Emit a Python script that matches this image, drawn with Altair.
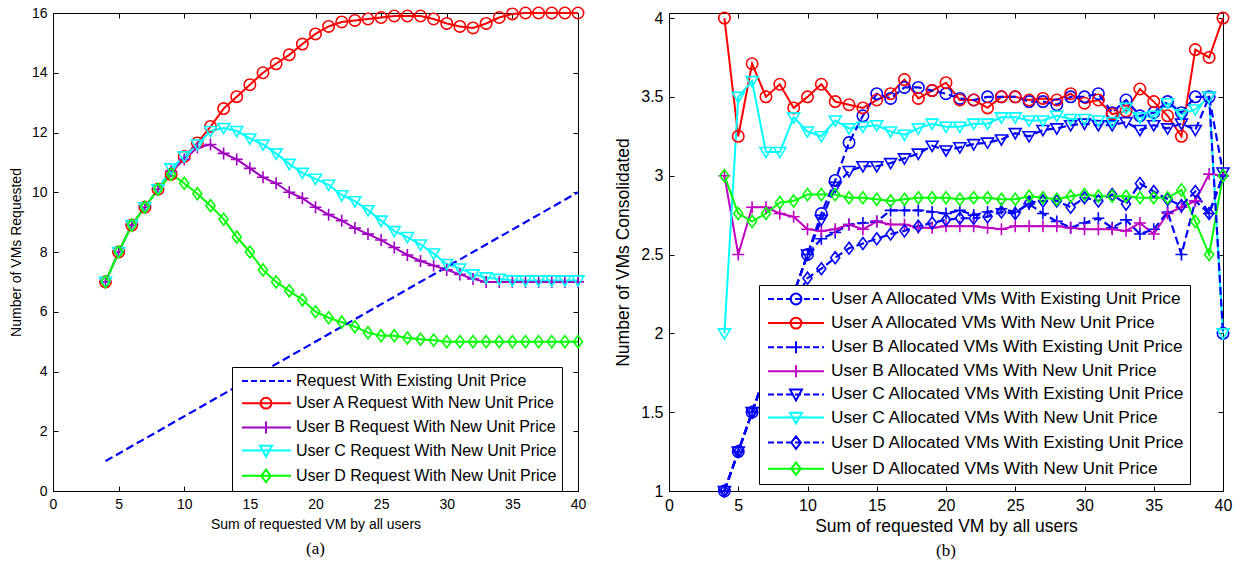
import altair as alt
import pandas as pd

FONT = "Liberation Sans"
SERIF = "Liberation Serif"

# ---------------- Panel (a) data ----------------
A_X = list(range(4, 41))
A_EXIST_X = [4, 40]
A_EXIST_Y = [1, 10]
A_USER_A = [7, 8, 8.9, 9.5, 10.1, 10.6, 11.2, 11.65, 12.2, 12.8, 13.2, 13.6, 14.0, 14.3, 14.6, 14.96,
            15.3, 15.55, 15.7, 15.75, 15.8, 15.85, 15.9, 15.9, 15.9, 15.8, 15.65, 15.55, 15.5, 15.65,
            15.85, 15.97, 16, 16, 16, 16, 16]
A_USER_B = [7, 8, 8.9, 9.5, 10.1, 10.7, 11.1, 11.5, 11.6, 11.3, 11.1, 10.8, 10.5, 10.3, 10.0, 9.8,
            9.5, 9.25, 9.05, 8.8, 8.6, 8.4, 8.15, 7.9, 7.7, 7.55, 7.4, 7.25, 7.1, 7.0,
            7.0, 7.0, 7.0, 7.0, 7.0, 7.0, 7.0]
A_USER_C = [7, 8, 8.9, 9.5, 10.1, 10.8, 11.2, 11.6, 12.05, 12.15, 12.05, 11.8, 11.6, 11.3, 10.95, 10.65,
            10.45, 10.25, 9.9, 9.7, 9.4, 9.05, 8.7, 8.5, 8.25, 7.95, 7.6, 7.45, 7.25, 7.15,
            7.1, 7.05, 7.05, 7.05, 7.05, 7.05, 7.05]
A_USER_D = [7, 8, 8.9, 9.5, 10.1, 10.6, 10.3, 9.95, 9.55, 9.1, 8.5, 8.0, 7.4, 7.0, 6.7, 6.4,
            6.0, 5.8, 5.65, 5.5, 5.3, 5.2, 5.2, 5.12, 5.08, 5.05,
            5.0, 5.0, 5.0, 5.0, 5.0, 5.0, 5.0, 5.0, 5.0, 5.0, 5.0]
A_NAMES = ["Request With Existing Unit Price",
           "User A Request With New Unit Price",
           "User B Request With New Unit Price",
           "User C Request With New Unit Price",
           "User D Request With New Unit Price"]
A_COLORS = ["#0000FF", "#FF0000", "#A000C0", "#00FFFF", "#00FF00"]
A_DASHED = [True, False, False, False, False]
A_MARKERS = ["none", "circle", "plus", "tri", "diamond"]

# ---------------- Panel (b) data ----------------
B_X = list(range(4, 41))
B_A_EXIST = [1, 1.25, 1.5, 1.75, 2.0, 2.25, 2.5, 2.76, 2.97, 3.21, 3.38, 3.52, 3.49, 3.56, 3.56, 3.54,
             3.52, 3.49, 3.48, 3.5, 3.5, 3.5, 3.47, 3.47, 3.45, 3.5, 3.5, 3.52, 3.4, 3.48,
             3.38, 3.4, 3.47, 3.4, 3.5, 3.5, 2.0]
B_A_NEW = [4.0, 3.25, 3.71, 3.5, 3.58, 3.43, 3.5, 3.58, 3.47, 3.45, 3.43, 3.48, 3.52, 3.61, 3.49, 3.54,
           3.59, 3.48, 3.48, 3.43, 3.5, 3.5, 3.48, 3.49, 3.48, 3.52, 3.46, 3.48, 3.39, 3.41,
           3.55, 3.47, 3.38, 3.25, 3.8, 3.75, 4.0]
B_B_EXIST = [1, 1.25, 1.5, 1.75, 2.0, 2.25, 2.5, 2.6, 2.64, 2.69, 2.7, 2.71, 2.78, 2.78, 2.78, 2.77,
             2.76, 2.78, 2.75, 2.77, 2.79, 2.77, 2.82, 2.76, 2.71, 2.67, 2.7, 2.73, 2.67, 2.72,
             2.63, 2.66, 2.77, 2.5, 2.84, 2.76, 3.0]
B_B_NEW = [3.0, 2.5, 2.8, 2.8, 2.76, 2.74, 2.66, 2.65, 2.66, 2.69, 2.66, 2.71, 2.69, 2.69, 2.67, 2.67,
           2.68, 2.68, 2.68, 2.67, 2.66, 2.68, 2.68, 2.68, 2.68, 2.67, 2.66, 2.66, 2.66, 2.65,
           2.7, 2.63, 2.76, 2.8, 2.84, 3.01, 3.0]
B_C_EXIST = [1, 1.25, 1.5, 1.75, 2.0, 2.25, 2.5, 2.72, 2.93, 3.03, 3.06, 3.06, 3.08, 3.11, 3.14, 3.19,
             3.16, 3.18, 3.2, 3.21, 3.23, 3.27, 3.25, 3.29, 3.3, 3.32, 3.33, 3.32, 3.32, 3.34,
             3.29, 3.32, 3.3, 3.33, 3.29, 3.5, 3.02]
B_C_NEW = [2.0, 3.5, 3.6, 3.15, 3.15, 3.37, 3.28, 3.25, 3.35, 3.3, 3.31, 3.32, 3.28, 3.26, 3.3, 3.33,
           3.31, 3.31, 3.33, 3.33, 3.37, 3.37, 3.35, 3.35, 3.38, 3.36, 3.36, 3.35, 3.34, 3.43,
           3.37, 3.38, 3.46, 3.39, 3.42, 3.5, 2.0]
B_D_EXIST = [1, 1.25, 1.5, 1.75, 2.0, 2.2, 2.35, 2.41, 2.48, 2.54, 2.57, 2.6, 2.63, 2.65, 2.68, 2.7,
             2.72, 2.73, 2.73, 2.74, 2.77, 2.76, 2.83, 2.84, 2.84, 2.8, 2.86, 2.84, 2.88, 2.82,
             2.95, 2.9, 2.85, 2.81, 2.9, 2.76, 3.0]
B_D_NEW = [3.0, 2.76, 2.71, 2.76, 2.83, 2.84, 2.88, 2.88, 2.88, 2.86, 2.86, 2.85, 2.84, 2.85, 2.86, 2.86,
           2.86, 2.85, 2.86, 2.86, 2.85, 2.85, 2.87, 2.86, 2.85, 2.87, 2.88, 2.87, 2.87, 2.87,
           2.86, 2.86, 2.86, 2.91, 2.71, 2.5, 3.0]
B_NAMES = ["User A Allocated VMs With Existing Unit Price",
           "User A Allocated VMs With New Unit Price",
           "User B Allocated VMs With Existing Unit Price",
           "User B Allocated VMs With New Unit Price",
           "User C Allocated VMs With Existing Unit Price",
           "User C Allocated VMs With New Unit Price",
           "User D Allocated VMs With Existing Unit Price",
           "User D Allocated VMs With New Unit Price"]
# blues differ by one unit so every series keeps its own range entry
B_COLORS = ["#0000FF", "#FF0000", "#0000FE", "#C000C0", "#0000FD", "#00FFFF", "#0000FC", "#00FF00"]
B_DASHED = [True, False, True, False, True, False, True, False]
B_MARKERS = ["circle", "circle", "plus", "plus", "tri", "tri", "diamond", "diamond"]

X_TICKS = [0, 5, 10, 15, 20, 25, 30, 35, 40]
A_Y_TICKS = [0, 2, 4, 6, 8, 10, 12, 14, 16]
B_Y_TICKS = [1, 1.5, 2, 2.5, 3, 3.5, 4]
X_TITLE = "Sum of requested VM  by all users"

# marker glyphs used inside the plot area: (shape, size)
PLOT_SHAPES = {
    "circle": ("circle", 130),
    "plus": ("M-1,0H1M0,-1V1", 144),
    "tri": ("M-1,-0.75H1L0,0.95Z", 144),
    "diamond": ("M0,-1L0.75,0L0,1L-0.75,0Z", 144),
}

LEG_SYMBOL_SIZE = 256          # unit = sqrt(256)/2 = 8 px
LEG_UNIT = 8.0
LEG_CENTER = 9.0               # ceil(sqrt(size) + stroke) / 2


def legend_symbol(marker, dashed, x0, x1, xm):
    def u(px):
        return (px - LEG_CENTER) / LEG_UNIT

    def s(px):
        return px / LEG_UNIT
    L, R, M = u(x0), u(x1), u(xm)
    if dashed:
        parts = []
        x = L
        while x < R - 1e-9:
            parts.append(f"M{x:.3f},0H{min(x + s(6), R):.3f}")
            x += s(9)
        path = "".join(parts)
    else:
        path = f"M{L:.3f},0H{R:.3f}"
    if marker == "circle":
        r = s(5.4)
        path += f"M{M + r:.3f},0A{r:.3f},{r:.3f} 0 1 1 {M - r:.3f},0A{r:.3f},{r:.3f} 0 1 1 {M + r:.3f},0"
    elif marker == "plus":
        h = s(6)
        path += f"M{M:.3f},{-h:.3f}V{h:.3f}M{M - h:.3f},0H{M + h:.3f}"
    elif marker == "tri":
        path += f"M{M - s(6):.3f},{-s(4.8):.3f}H{M + s(6):.3f}L{M:.3f},{s(6):.3f}Z"
    elif marker == "diamond":
        path += (f"M{M:.3f},{-s(6.2):.3f}L{M + s(4.8):.3f},0L{M:.3f},{s(6.2):.3f}"
                 f"L{M - s(4.8):.3f},0Z")
    return path


def long_frame(xs_list, ys_list, names):
    rows = []
    for xs, ys, n in zip(xs_list, ys_list, names):
        for xv, yv in zip(xs, ys):
            rows.append({"x": xv, "y": yv, "series": n})
    return pd.DataFrame(rows)


def panel(df, names, colors, dashed, markers, ydom, yticks, yfmt, ytitle,
          width, height, fs_tick, fs_title, fs_leg, leg_xy, leg_geom, caption,
          x_title_pad, y_title_pad, cap_offset):
    xscale = alt.Scale(domain=[0, 40], nice=False, zero=False)
    yscale = alt.Scale(domain=ydom, nice=False, zero=False)
    cscale = alt.Scale(domain=names, range=colors)
    common_ax = dict(domain=False, grid=False, offset=-5, tickSize=5, tickColor="black",
                     tickWidth=1)
    x_main = alt.Axis(orient="bottom", values=X_TICKS, title=X_TITLE, labelFlush=False,
                      labelPadding=6, labelFont=FONT, labelFontSize=fs_tick, labelColor="black",
                      titleFont=FONT, titleFontSize=fs_title, titleFontWeight="normal",
                      titleColor="black", titlePadding=x_title_pad, **common_ax)
    y_main = alt.Axis(orient="left", values=yticks, title=ytitle, format=yfmt, labelFlush=False,
                      labelPadding=6, labelFont=FONT, labelFontSize=fs_tick, labelColor="black",
                      titleFont=FONT, titleFontSize=fs_title, titleFontWeight="normal",
                      titleColor="black", titlePadding=y_title_pad, **common_ax)
    x_top = alt.Axis(orient="top", values=X_TICKS, labels=False, title=None,
                     minExtent=0, maxExtent=0, **common_ax)
    y_right = alt.Axis(orient="right", values=yticks, labels=False, title=None,
                       minExtent=0, maxExtent=0, **common_ax)

    dashed_names = [n for n, d in zip(names, dashed) if d]
    solid_names = [n for n, d in zip(names, dashed) if not d]

    base = alt.Chart(df)

    # legend-only layer (first, so its legend settings win when layers merge)
    x0, x1, xm, lab_off, pad, rowpad = leg_geom
    paths = [legend_symbol(m, d, x0, x1, xm) for m, d in zip(markers, dashed)]
    leg = alt.Legend(title=None, orient="none", legendX=leg_xy[0], legendY=leg_xy[1],
                     direction="vertical", labelFont=FONT, labelFontSize=fs_leg,
                     labelColor="black", labelLimit=0, labelOffset=lab_off,
                     symbolSize=LEG_SYMBOL_SIZE, symbolStrokeWidth=2, symbolOpacity=1,
                     padding=pad, rowPadding=rowpad, strokeColor="black",
                     fillColor="white", cornerRadius=0)
    legend_layer = base.transform_filter("false").mark_point(
        filled=False, size=LEG_SYMBOL_SIZE, strokeWidth=2, opacity=1
    ).encode(
        color=alt.Color("series:N", scale=cscale, legend=leg),
        shape=alt.Shape("series:N", scale=alt.Scale(domain=names, range=paths), legend=leg),
    )

    solid = base.transform_filter(
        alt.FieldOneOfPredicate(field="series", oneOf=solid_names)
    ).mark_line(strokeWidth=2).encode(
        x=alt.X("x:Q", scale=xscale, axis=x_main),
        y=alt.Y("y:Q", scale=yscale, axis=y_main),
        color=alt.Color("series:N", scale=cscale, legend=None),
    )
    dash = base.transform_filter(
        alt.FieldOneOfPredicate(field="series", oneOf=dashed_names)
    ).mark_line(strokeWidth=2.2, strokeDash=[8, 4]).encode(
        x=alt.X("x:Q", scale=xscale, axis=x_top),
        y=alt.Y("y:Q", scale=yscale, axis=y_right),
        color=alt.Color("series:N", scale=cscale, legend=None),
    )
    layers = [legend_layer, solid, dash]
    for mk, (shape, size) in PLOT_SHAPES.items():
        sel = [n for n, m in zip(names, markers) if m == mk]
        if not sel:
            continue
        layers.append(
            base.transform_filter(alt.FieldOneOfPredicate(field="series", oneOf=sel))
            .mark_point(shape=shape, size=size, filled=False, strokeWidth=1.6, opacity=1)
            .encode(
                x=alt.X("x:Q", scale=xscale, axis=None),
                y=alt.Y("y:Q", scale=yscale, axis=None),
                color=alt.Color("series:N", scale=cscale, legend=None),
            )
        )
    return alt.layer(*layers).resolve_axis(x="independent", y="independent").properties(
        width=width, height=height,
        view=alt.ViewBackground(stroke="black", strokeWidth=1, fill="white"),
        title=alt.TitleParams(caption, orient="bottom", font=SERIF, fontSize=17,
                              fontWeight="normal", color="black", anchor="middle",
                              frame="group", offset=cap_offset),
    )


df_a = long_frame([A_EXIST_X, A_X, A_X, A_X, A_X],
                  [A_EXIST_Y, A_USER_A, A_USER_B, A_USER_C, A_USER_D], A_NAMES)
df_b = long_frame([B_X] * 8,
                  [B_A_EXIST, B_A_NEW, B_B_EXIST, B_B_NEW, B_C_EXIST, B_C_NEW, B_D_EXIST, B_D_NEW],
                  B_NAMES)

pa = panel(df_a, A_NAMES, A_COLORS, A_DASHED, A_MARKERS, [0, 16], A_Y_TICKS, "d",
           "Number of VMs Requested", 525, 478, 14, 14, 16, (179, 354),
           (5, 54, 29, 41, 5, 4.2), "(a)", 6, 8, 10)
# panel (b): the frame top sits slightly above the y = 4 tick, as in the original
pb = panel(df_b, B_NAMES, B_COLORS, B_DASHED, B_MARKERS, [1, 4.032], B_Y_TICKS, ".1~f",
           "Number of VMs Consolidated", 554, 478, 16, 17.5, 17.3, (90, 272),
           (4, 60, 32, 49, 5, 4.1), "(b)", 4, 8, 8)

chart = alt.hconcat(pa, pb, spacing=26).resolve_scale(
    color="independent", shape="independent"
).resolve_legend(color="independent", shape="independent").properties(
    padding={"left": 8, "top": 3, "right": 5, "bottom": 2},
    background="white",
).configure_view(strokeWidth=0)

chart.save("out.html", embed_options={"renderer": "svg", "actions": False})
